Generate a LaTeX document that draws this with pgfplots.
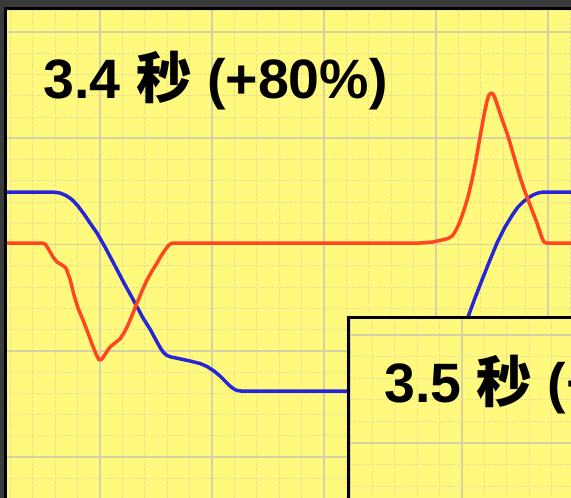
\documentclass[border=0pt]{standalone}
\usepackage{pgfplots}
\pgfplotsset{compat=1.18}
\usepackage{fontspec}
\setmainfont{Liberation Sans}
\newfontfamily\cjk{Noto Sans CJK SC}

\definecolor{framegray}{RGB}{58,58,58}
\definecolor{chartyellow}{RGB}{255,250,125}
\definecolor{majorgrid}{RGB}{214,208,165}
\definecolor{minorgrid}{RGB}{230,224,150}
\definecolor{curvered}{RGB}{255,70,32}
\definecolor{curveblue}{RGB}{38,38,215}

% traces, in pixels (y counted from the top)
\pgfplotstableread{
x y
7 192
50 192
55 192.3
60 193
66 195.5
72 199.5
78 206
84 214
90 223
97 233
105 247
113 262
124 283
135 303
143 318
150 329
157 342
161 349
164 353
167 355.5
171 357
176 358
190 361
200 363.5
207 366.5
214 371
220 376
226 382
230 386
234 389
237 390.5
241 391
347 391
440 391
450 380
458 350
468 317
475 298
482 280
490 260
497 243
505 227
513 214
518 207
523 202
528 198
533 195
538 193
543 192
580 192
}\bluetrace

\pgfplotstableread{
x y
7 243
43 243
46 245
49 250
53 257
57 262
62 265
66 268
70 279
74 295
78 308
83 320
88 333
92 344
96 354
99 360
102 359
106 353
110 347
115 343
120 339
124 333
128 325
133 313
137 303
142 291
147 280
152 271
157 263
161 256
165 250
168 246
171 243.5
174 243
420 243
433 242
442 240
448 238.5
452 236
455 232
459 224
463 213
468 197
472 180
476 160
480 137
484 115
487 101
489 95
491 93
493 94
495 98
499 110
503 122
507 133
510 143
515 160
520 177
524 189
527 197
532 210
537 223
540 232
542 238
544 242
547 243
580 243
}\redtrace

\pgfplotsset{
  scopegrid/.style={
    scale only axis,
    y dir=reverse,
    axis background/.style={fill=chartyellow},
    axis line style={line width=3.5pt, black},
    grid=both,
    major grid style={majorgrid, line width=1.6pt},
    minor grid style={minorgrid, line width=1pt, dash pattern=on 3pt off 1.5pt},
    tick style={draw=none},
    xticklabels={}, yticklabels={},
  },
}

\begin{document}
\begin{tikzpicture}
\useasboundingbox (0,0) rectangle (571pt,498pt);
\clip (0,0) rectangle (571pt,498pt);
\fill[framegray] (0,0) rectangle (571pt,498pt);

\begin{axis}[
  scopegrid,
  at={(5.5pt,489.5pt)}, anchor=north west,
  width=580pt, height=500pt,
  xmin=5.5, xmax=585.5, ymin=8.5, ymax=508.5,
  xtick={100,212,324,436,548},
  minor xtick={10.4,32.8,...,590},
  ytick={32,138.25,244.5,350.75,457},
  minor ytick={10.75,32,...,510},
]
\addplot[curveblue, line width=3.5pt, line join=round] table[x=x, y=y] {\bluetrace};
\addplot[curvered, line width=3.5pt, line join=round] table[x=x, y=y] {\redtrace};
\end{axis}

\node[anchor=base west, inner sep=0pt, font=\fontsize{55.5}{60}\selectfont\bfseries]
  at (43.5pt,399pt) {3.4 {\cjk 秒} (+80\%)};

\begin{axis}[
  scopegrid,
  at={(348.5pt,180.5pt)}, anchor=north west,
  width=240pt, height=200pt,
  xmin=348.5, xmax=588.5, ymin=317.5, ymax=517.5,
  xtick={350,462,574},
  minor xtick={350,372.4,...,600},
  ytick={335,443,551},
  minor ytick={313.4,335,...,530},
]
\end{axis}

\node[anchor=base west, inner sep=0pt, font=\fontsize{55.5}{60}\selectfont\bfseries]
  at (384pt,95pt) {3.5 {\cjk 秒} (+};
\end{tikzpicture}
\end{document}
